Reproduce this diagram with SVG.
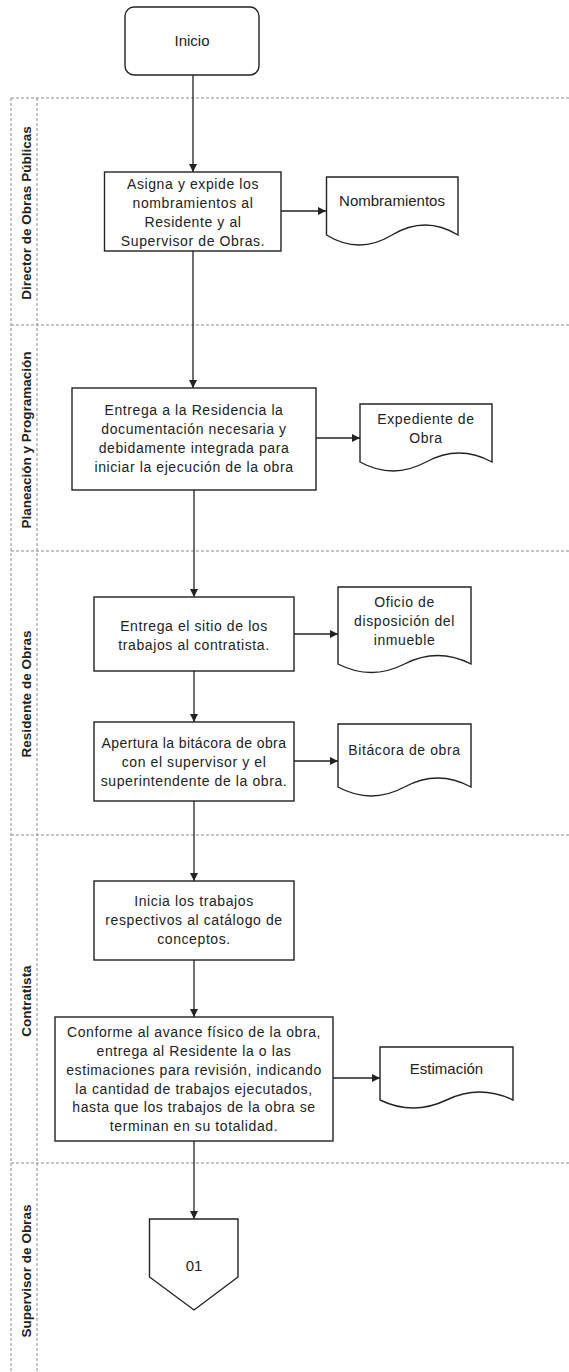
<svg xmlns="http://www.w3.org/2000/svg" width="569" height="1372" viewBox="0 0 569 1372">
<style>
.lane{fill:none;stroke:#8a8a8a;stroke-width:1;stroke-dasharray:3 2}
.lbl{font-family:"Liberation Sans",Arial,sans-serif;font-weight:bold;font-size:13.5px;fill:#222;text-anchor:middle}
.box{fill:#fff;stroke:#222;stroke-width:1.4}
.t{font-family:"Liberation Sans",Arial,sans-serif;font-size:14px;letter-spacing:0.6px;fill:#222;text-anchor:middle}
.t2{font-family:"Liberation Sans",Arial,sans-serif;font-size:15px;fill:#222;text-anchor:middle}
.edge{fill:none;stroke:#222;stroke-width:1.3;marker-end:url(#ah)}
</style>
<defs>
<marker id="ah" viewBox="0 0 10 10" refX="10" refY="5" markerWidth="8" markerHeight="8" markerUnits="userSpaceOnUse" orient="auto">
<path d="M0,0 L10,5 L0,10 Z" fill="#222"/>
</marker>
</defs>
<rect width="569" height="1372" fill="#fff"/>
<g id="lanes">
<line class="lane" x1="11" y1="98" x2="569" y2="98"/>
<line class="lane" x1="11" y1="325" x2="569" y2="325"/>
<line class="lane" x1="11" y1="551" x2="569" y2="551"/>
<line class="lane" x1="11" y1="835" x2="569" y2="835"/>
<line class="lane" x1="11" y1="1163" x2="569" y2="1163"/>
<line class="lane" x1="11" y1="98" x2="11" y2="1372"/>
<line class="lane" x1="37" y1="98" x2="37" y2="1372"/>
<text class="lbl" transform="translate(26,213) rotate(-90)" dy="0.35em">Director de Obras Públicas</text>
<text class="lbl" transform="translate(26,440) rotate(-90)" dy="0.35em">Planeación y Programación</text>
<text class="lbl" transform="translate(26,694) rotate(-90)" dy="0.35em">Residente de Obras</text>
<text class="lbl" transform="translate(26,1001) rotate(-90)" dy="0.35em">Contratista</text>
<text class="lbl" transform="translate(26,1271) rotate(-90)" dy="0.35em">Supervisor de Obras</text>
</g>
<g id="connectors">
<line class="edge" x1="193" y1="75" x2="193" y2="172"/>
<line class="edge" x1="281" y1="211" x2="326" y2="211"/>
<line class="edge" x1="193" y1="251" x2="193" y2="388"/>
<line class="edge" x1="316" y1="438" x2="360" y2="438"/>
<line class="edge" x1="194" y1="490" x2="194" y2="597"/>
<line class="edge" x1="294" y1="634" x2="338" y2="634"/>
<line class="edge" x1="194" y1="671" x2="194" y2="722"/>
<line class="edge" x1="294" y1="761" x2="338" y2="761"/>
<line class="edge" x1="194" y1="801" x2="194" y2="881"/>
<line class="edge" x1="194" y1="960" x2="194" y2="1017"/>
<line class="edge" x1="333" y1="1078" x2="380" y2="1078"/>
<line class="edge" x1="194" y1="1141" x2="194" y2="1219"/>
</g>
<g id="inicio">
<rect class="box" x="125" y="7" width="134" height="68" rx="9"/>
<text class="t2" x="192" y="46">Inicio</text>
</g>
<g id="asigna">
<rect class="box" x="104.5" y="172" width="176.5" height="79"/>
<text class="t" x="193" y="189">Asigna y expide los</text>
<text class="t" x="193" y="208">nombramientos al</text>
<text class="t" x="193" y="227">Residente y al</text>
<text class="t" x="193" y="246">Supervisor de Obras.</text>
</g>
<g id="nombramientos">
<path class="box" d="M326.5,177 H458 V235 Q425,215 392,235 T326.5,235 Z"/>
<text class="t2" x="392" y="206">Nombramientos</text>
</g>
<g id="entrega-residencia">
<rect class="box" x="72" y="388" width="244" height="102"/>
<text class="t" x="194" y="415">Entrega a la Residencia la</text>
<text class="t" x="194" y="434">documentación necesaria y</text>
<text class="t" x="194" y="453">debidamente integrada para</text>
<text class="t" x="194" y="472">iniciar la ejecución de la obra</text>
</g>
<g id="expediente">
<path class="box" d="M360,404 H492 V462 Q459,444 426,462 T360,462 Z"/>
<text class="t" x="426" y="424">Expediente de</text>
<text class="t" x="426" y="443">Obra</text>
</g>
<g id="entrega-sitio">
<rect class="box" x="94" y="597" width="200" height="74"/>
<text class="t" x="194" y="631">Entrega el sitio de los</text>
<text class="t" x="194" y="650">trabajos al contratista.</text>
</g>
<g id="oficio">
<path class="box" d="M338,587 H471 V664 Q437.75,647 404.5,664 T338,664 Z"/>
<text class="t" x="404.5" y="607">Oficio de</text>
<text class="t" x="404.5" y="626">disposición del</text>
<text class="t" x="404.5" y="645">inmueble</text>
</g>
<g id="apertura">
<rect class="box" x="94" y="722" width="200" height="79"/>
<text class="t" x="194" y="748" style="letter-spacing:0.4px">Apertura la bitácora de obra</text>
<text class="t" x="194" y="767">con el supervisor y el</text>
<text class="t" x="194" y="786">superintendente de la obra.</text>
</g>
<g id="bitacora">
<path class="box" d="M338,724 H471 V787 Q437.75,769 404.5,787 T338,787 Z"/>
<text class="t" x="404.5" y="755">Bitácora de obra</text>
</g>
<g id="inicia">
<rect class="box" x="94" y="881" width="200" height="79"/>
<text class="t" x="194" y="906">Inicia los trabajos</text>
<text class="t" x="194" y="925">respectivos al catálogo de</text>
<text class="t" x="194" y="944">conceptos.</text>
</g>
<g id="conforme">
<rect class="box" x="55" y="1017" width="278" height="124"/>
<text class="t" x="194" y="1037">Conforme al avance físico de la obra,</text>
<text class="t" x="194" y="1056">entrega al Residente la o las</text>
<text class="t" x="194" y="1075">estimaciones para revisión, indicando</text>
<text class="t" x="194" y="1094">la cantidad de trabajos ejecutados,</text>
<text class="t" x="194" y="1112">hasta que los trabajos de la obra se</text>
<text class="t" x="194" y="1131">terminan en su totalidad.</text>
</g>
<g id="estimacion">
<path class="box" d="M380,1047 H513 V1100 Q479.75,1084 446.5,1100 T380,1100 Z"/>
<text class="t2" x="446.5" y="1074">Estimación</text>
</g>
<g id="conector-01">
<path class="box" d="M149.5,1219 H238 V1277 L194,1310 L149.5,1277 Z"/>
<text class="t2" x="194" y="1271">01</text>
</g>
</svg>
